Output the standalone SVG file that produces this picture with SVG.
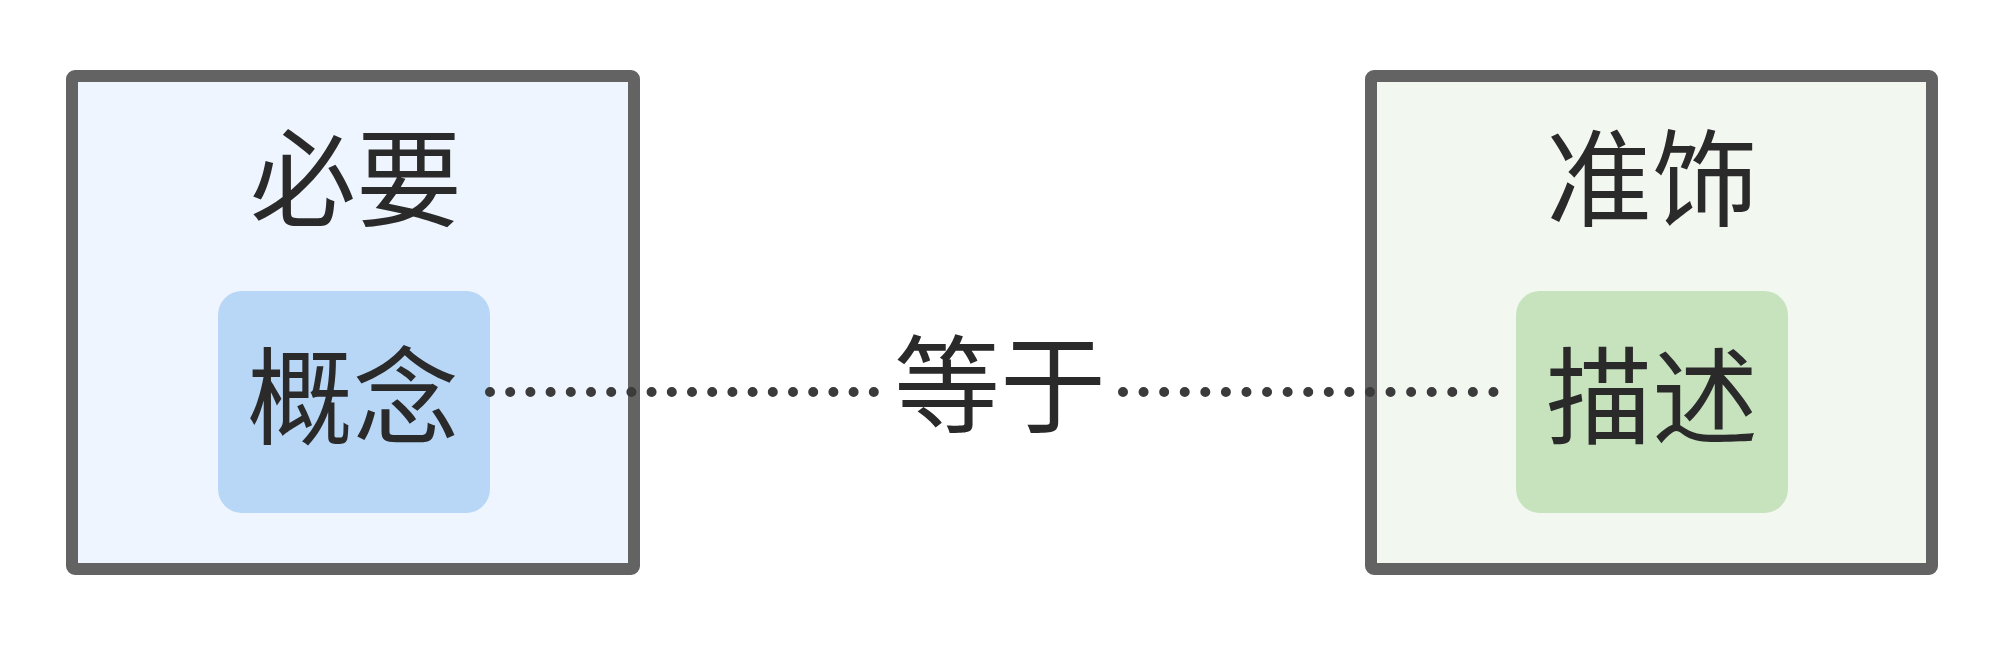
<svg xmlns="http://www.w3.org/2000/svg" width="2000" height="670" viewBox="0 0 2000 670">
  <style>
    .outer { stroke: #636363; stroke-width: 12; stroke-linejoin: round; }
    .label { font-family: "Noto Sans CJK SC", "Noto Sans", sans-serif; font-size: 106px; fill: #2a2a2a; text-anchor: middle; }
    .dots { stroke: #3b3b3b; stroke-width: 10; stroke-linecap: round; fill: none; }
  </style>
  <rect width="2000" height="670" fill="#ffffff"/>
  <g id="left-box">
    <rect class="outer" x="72" y="76" width="562" height="493" rx="3" fill="#eef5fe"/>
    <text class="label" x="356" y="218">必要</text>
  </g>
  <g id="concept">
    <rect x="218" y="291" width="272" height="222" rx="24" fill="#b8d6f5"/>
    <text class="label" x="353" y="436">概念</text>
  </g>
  <g id="right-box">
    <rect class="outer" x="1371" y="76" width="561" height="493" rx="3" fill="#f2f8f0"/>
    <text class="label" x="1652" y="218">准饰</text>
  </g>
  <g id="description">
    <rect x="1516" y="291" width="272" height="222" rx="24" fill="#c6e3bd"/>
    <text class="label" x="1652" y="436">描述</text>
  </g>
  <g id="connectors">
    <line class="dots" x1="490" y1="392" x2="874" y2="392" stroke-dasharray="0 20.2"/>
    <line class="dots" x1="1123" y1="392" x2="1514" y2="392" stroke-dasharray="0 20.58"/>
    <text class="label" x="1000" y="424">等于</text>
  </g>
</svg>
